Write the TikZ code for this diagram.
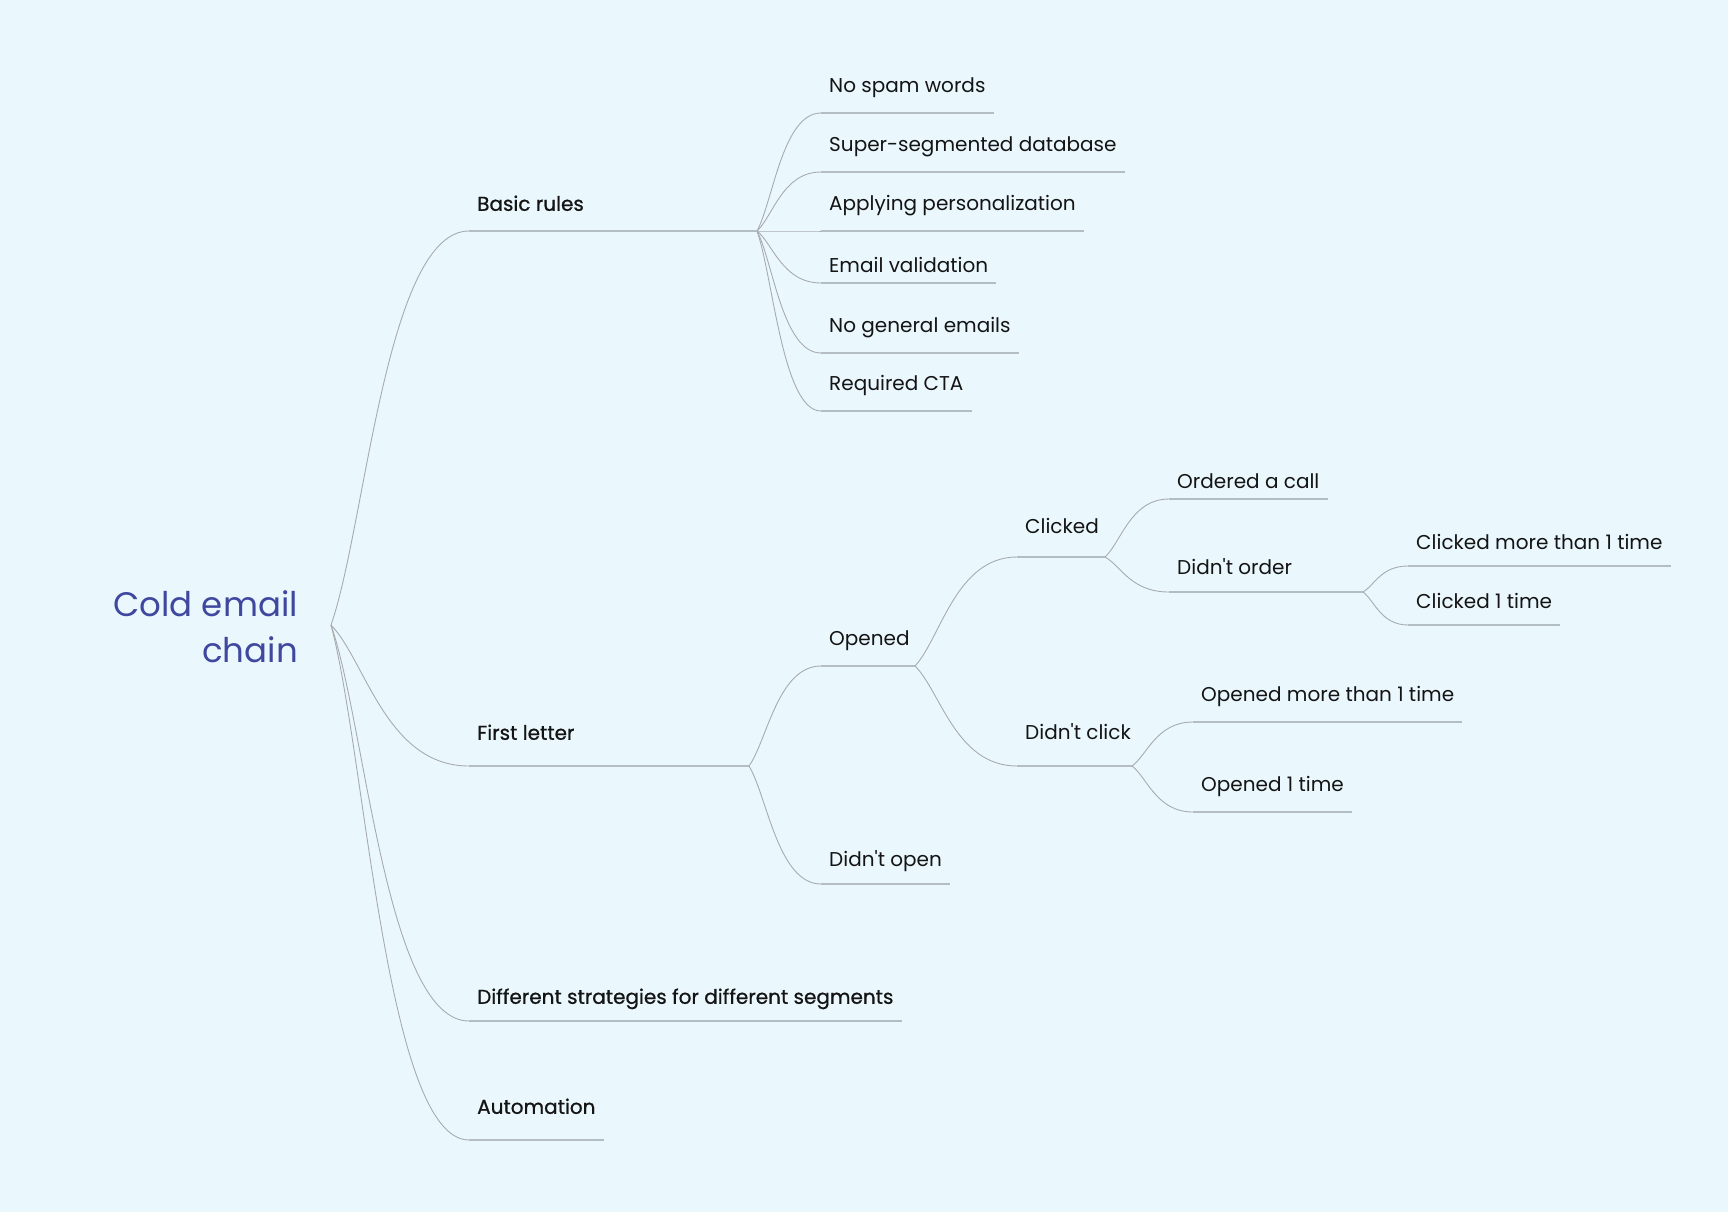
\documentclass[tikz,border=0pt]{standalone}
\usepackage{fontspec}
\setmainfont{Poppins}
\newfontfamily\mapfont{Poppins}
\newfontfamily\mapfontmed{Poppins}[FakeBold=0.8]
\usetikzlibrary{calc}
\definecolor{bg}{HTML}{EAF8FE}
\definecolor{wire}{HTML}{A8ABAE}
\definecolor{rule}{HTML}{B4BCC4}
\definecolor{ink}{HTML}{141414}
\definecolor{rootblue}{HTML}{3F479E}
\tikzset{
  topic/.style={anchor=south west, inner xsep=8pt, inner ysep=0pt, text height=16pt, text depth=#1, text=ink, font=\mapfont\fontsize{20}{24}\selectfont},
  topic/.default=20pt,
  maintopic/.style={topic=#1, font=\mapfontmed\fontsize{20}{24}\selectfont},
  maintopic/.default=20pt,
  rootnode/.style={anchor=east, align=right, inner sep=0pt, text=rootblue, font=\mapfont\fontsize{34}{46}\selectfont},
  link/.style={draw=wire, line width=0.9pt},
  under/.style={draw=rule, line width=1.3pt},
  branch/.style={to path={.. controls ($(\tikztostart)!0.25!(\tikztotarget)$) and ($(\tikztotarget -| \tikztostart)!0.4!(\tikztotarget)$) .. (\tikztotarget)}}
}
\begin{document}
\begin{tikzpicture}[x=1pt, y=-1pt]
\fill[bg] (0,0) rectangle (1728,1212);
\useasboundingbox (0,0) rectangle (1728,1212);

\node[rootnode] (root) at (298,627) {Cold email\\chain};
\coordinate (root-j) at (331,625);

\node[maintopic] (basic) at (469,231) {Basic rules};
\node[maintopic=26pt] (first) at (469,766) {First letter};
\node[maintopic=17pt] (strat) at (469,1021) {Different strategies for different segments};
\node[maintopic=26pt] (autom) at (469,1140) {Automation};
\coordinate (basic-j) at (757,231);
\coordinate (first-j) at (749,766);

\node[topic] (spam) at (821,113) {No spam words};
\node[topic] (segm) at (821,172) {Super-segmented database};
\node[topic] (pers) at (821,231) {Applying personalization};
\node[topic=10pt] (valid) at (821,283) {Email validation};
\node[topic] (general) at (821,353) {No general emails};
\node[topic] (cta) at (821,411) {Required CTA};
\node[topic] (opened) at (821,666) {Opened};
\node[topic=17pt] (noopen) at (821,884) {Didn't open};
\coordinate (opened-j) at (915,666);

\node[topic=23pt] (clicked) at (1017,557) {Clicked};
\node[topic=26pt] (noclick) at (1017,766) {Didn't click};
\coordinate (clicked-j) at (1105,557);
\coordinate (noclick-j) at (1132,766);

\node[topic=10pt] (ordered) at (1169,499) {Ordered a call};
\node[topic=17pt] (noorder) at (1169,592) {Didn't order};
\node[topic] (openmore) at (1193,722) {Opened more than 1 time};
\node[topic] (open1) at (1193,812) {Opened 1 time};
\coordinate (noorder-j) at (1363,592);

\node[topic=16pt] (clickmore) at (1408,566) {Clicked more than 1 time};
\node[topic=16pt] (click1) at (1408,625) {Clicked 1 time};

\foreach \kid in {basic,first,strat,autom} \draw[link] (root-j) to[branch] (\kid.south west);
\foreach \kid in {spam,segm,pers,valid,general,cta} \draw[link] (basic-j) to[branch] (\kid.south west);
\foreach \kid in {opened,noopen} \draw[link] (first-j) to[branch] (\kid.south west);
\foreach \kid in {clicked,noclick} \draw[link] (opened-j) to[branch] (\kid.south west);
\foreach \kid in {ordered,noorder} \draw[link] (clicked-j) to[branch] (\kid.south west);
\foreach \kid in {clickmore,click1} \draw[link] (noorder-j) to[branch] (\kid.south west);
\foreach \kid in {openmore,open1} \draw[link] (noclick-j) to[branch] (\kid.south west);

\draw[under] (basic.south west) -- (basic-j);
\draw[under] (first.south west) -- (first-j);
\draw[under] (opened.south west) -- (opened-j);
\draw[under] (clicked.south west) -- (clicked-j);
\draw[under] (noclick.south west) -- (noclick-j);
\draw[under] (noorder.south west) -- (noorder-j);
\foreach \kid in {strat,autom,spam,segm,pers,valid,general,cta,noopen,ordered,openmore,open1,clickmore,click1}
  \draw[under] (\kid.south west) -- (\kid.south east);
\end{tikzpicture}
\end{document}
